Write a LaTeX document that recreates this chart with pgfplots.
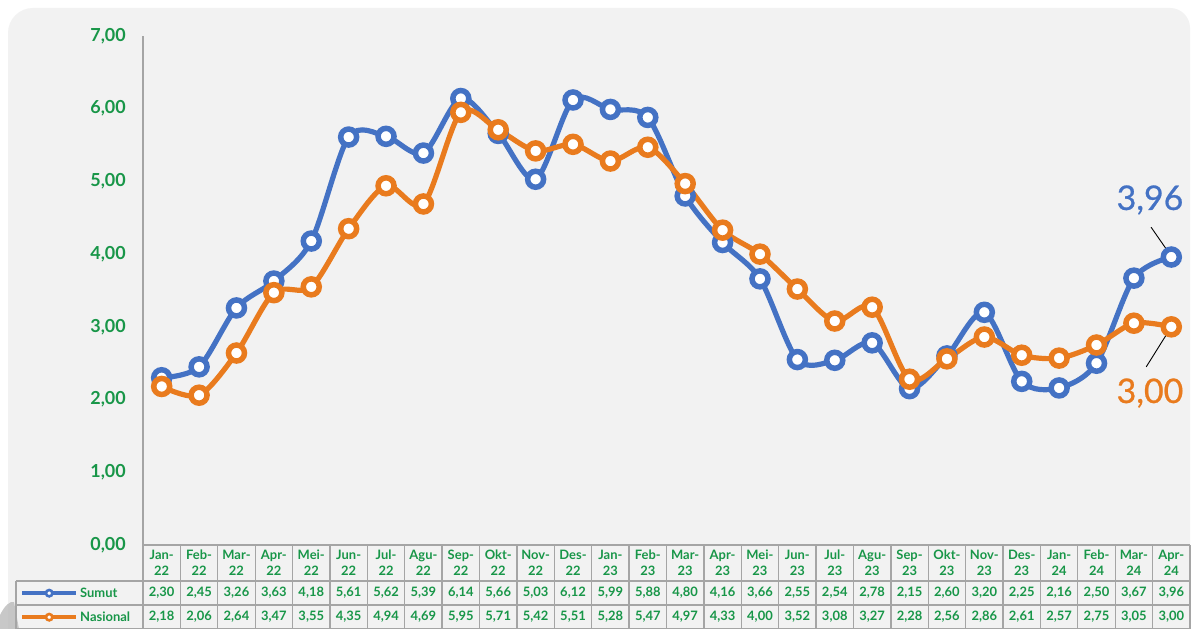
\documentclass[border=0pt]{standalone}
\usepackage{pgfplots}
\pgfplotsset{compat=1.18}
\usepackage{fontspec}
\setmainfont{Lato}
\definecolor{txtgreen}{RGB}{24,150,72}
\definecolor{sblue}{RGB}{68,114,196}
\definecolor{norange}{RGB}{233,123,30}
\definecolor{bggray}{RGB}{242,242,242}
\definecolor{gridgray}{RGB}{165,165,165}
\begin{document}
\begin{tikzpicture}[x=1bp,y=1bp]
\path[use as bounding box] (0,0) rectangle (1191,629);
\fill[white] (0,0) rectangle (1191,629);
\fill[bggray] (8,-5) -- (8,596) arc[start angle=180,end angle=90,radius=25] -- (1170,621) arc[start angle=90,end angle=0,radius=20] -- (1190,-5) -- cycle;
\fill[gray!60, opacity=0.7] (0,0) -- (0,14) .. controls (5,24) and (10,28) .. (14,27) -- (19,0) -- cycle;
\begin{axis}[
  at={(143bp,84bp)}, anchor=south west, scale only axis,
  width=1047bp, height=509bp,
  xmin=-0.5, xmax=27.5, ymin=0, ymax=7,
  axis x line*=bottom, axis y line*=left,
  axis line style={draw=gridgray, line width=1.3bp},
  major tick length=0pt,
  xtick={0,...,27},
  xticklabels={Jan-\\22,Feb-\\22,Mar-\\22,Apr-\\22,Mei-\\22,Jun-\\22,Jul-\\22,Agu-\\22,Sep-\\22,Okt-\\22,Nov-\\22,Des-\\22,Jan-\\23,Feb-\\23,Mar-\\23,Apr-\\23,Mei-\\23,Jun-\\23,Jul-\\23,Agu-\\23,Sep-\\23,Okt-\\23,Nov-\\23,Des-\\23,Jan-\\24,Feb-\\24,Mar-\\24,Apr-\\24},
  xticklabel style={align=center, font=\fontsize{13}{16}\selectfont\bfseries, text=txtgreen, inner sep=0pt, yshift=-5bp},
  ytick={0,1,...,7},
  yticklabel style={font=\fontsize{18}{20}\selectfont\bfseries, text=txtgreen, inner sep=0pt, xshift=-17bp,
    /pgf/number format/fixed, /pgf/number format/fixed zerofill, /pgf/number format/precision=2,
    /pgf/number format/use comma, /pgf/number format/assume math mode=true},
  clip=false,
  legend style={at={(-0.1213,-0.0707)}, anchor=north west, draw=none, fill=none,
    inner xsep=4bp, inner ysep=0pt, row sep=0pt,
    font=\fontsize{13}{14}\selectfont\bfseries, text=txtgreen,
    nodes={minimum height=24bp, inner ysep=0pt}},
  legend cell align=left,
  legend image code/.code={\draw[#1, line width=4bp, mark repeat=2, mark phase=2, mark size=3.2bp,
     mark options={fill=white, solid, line width=2.6bp}] plot coordinates {(0bp,0bp)(27bp,0bp)(54bp,0bp)};},
]
\addplot[sblue, line width=5.2bp, smooth, tension=0.5, mark=*, mark size=8bp,
  mark options={fill=white, draw=sblue, line width=5.5bp, solid}] coordinates {
(0,2.30)(1,2.45)(2,3.26)(3,3.63)(4,4.18)(5,5.61)(6,5.62)(7,5.39)(8,6.14)(9,5.66)(10,5.03)(11,6.12)(12,5.99)(13,5.88)(14,4.80)(15,4.16)(16,3.66)(17,2.55)(18,2.54)(19,2.78)(20,2.15)(21,2.60)(22,3.20)(23,2.25)(24,2.16)(25,2.50)(26,3.67)(27,3.96)};
\addlegendentry{Sumut}
\addplot[norange, line width=5.2bp, smooth, tension=0.5, mark=*, mark size=8bp,
  mark options={fill=white, draw=norange, line width=5.5bp, solid}] coordinates {
(0,2.18)(1,2.06)(2,2.64)(3,3.47)(4,3.55)(5,4.35)(6,4.94)(7,4.69)(8,5.95)(9,5.71)(10,5.42)(11,5.51)(12,5.28)(13,5.47)(14,4.97)(15,4.33)(16,4.00)(17,3.52)(18,3.08)(19,3.27)(20,2.28)(21,2.56)(22,2.86)(23,2.61)(24,2.57)(25,2.75)(26,3.05)(27,3.00)};
\addlegendentry{Nasional}
\draw[black, line width=0.9bp] (axis cs:26.46,4.37) -- (axis cs:27.0,3.97);
\draw[black, line width=0.9bp] (axis cs:26.33,2.45) -- (axis cs:27.0,3.0);
\node[text=sblue, font=\fontsize{34}{40}\selectfont\addfontfeature{FakeBold=0.7}] at (axis cs:26.43,4.745) {3,96};
\node[text=norange, font=\fontsize{34}{40}\selectfont\addfontfeature{FakeBold=0.7}] at (axis cs:26.43,2.09) {3,00};
\end{axis}
% data table grid
\foreach \k in {1,...,28} \draw[gridgray, line width=1.3bp] ({143+37.393*\k},84) -- ({143+37.393*\k},0);
\draw[gridgray, line width=1.3bp] (143,84) -- (143,0);
\draw[gridgray, line width=1.3bp] (16,48) -- (1190,48);
\draw[gridgray, line width=1.3bp] (16,24) -- (1190,24);
\draw[gridgray, line width=1.3bp] (16,0.6) -- (1190,0.6);
\draw[gridgray, line width=1.3bp] (16,48) -- (16,0);
\foreach \v [count=\i from 0] in {{2,30},{2,45},{3,26},{3,63},{4,18},{5,61},{5,62},{5,39},{6,14},{5,66},{5,03},{6,12},{5,99},{5,88},{4,80},{4,16},{3,66},{2,55},{2,54},{2,78},{2,15},{2,60},{3,20},{2,25},{2,16},{2,50},{3,67},{3,96}}
  \node[font=\fontsize{13}{14}\selectfont\bfseries, text=txtgreen] at ({143+37.393*(\i+0.5)},36) {\v};
\foreach \v [count=\i from 0] in {{2,18},{2,06},{2,64},{3,47},{3,55},{4,35},{4,94},{4,69},{5,95},{5,71},{5,42},{5,51},{5,28},{5,47},{4,97},{4,33},{4,00},{3,52},{3,08},{3,27},{2,28},{2,56},{2,86},{2,61},{2,57},{2,75},{3,05},{3,00}}
  \node[font=\fontsize{13}{14}\selectfont\bfseries, text=txtgreen] at ({143+37.393*(\i+0.5)},12) {\v};
\end{tikzpicture}
\end{document}
